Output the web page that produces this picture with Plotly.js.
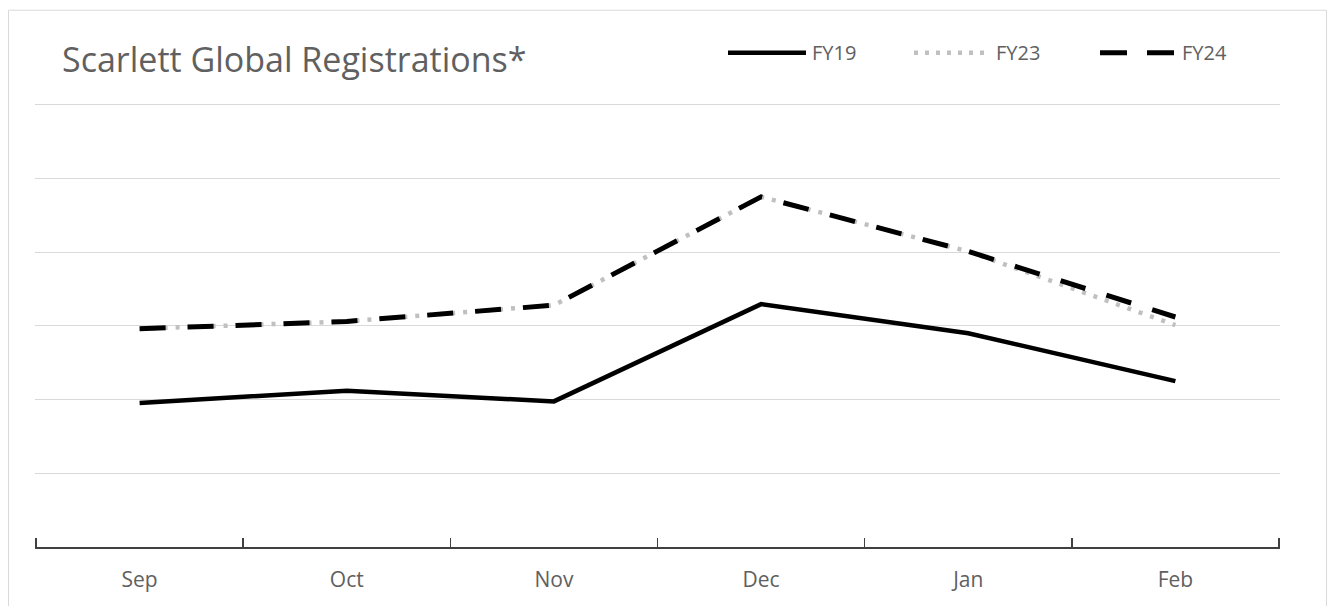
<!DOCTYPE html>
<html>
<head>
<meta charset="utf-8">
<script src="https://cdn.plot.ly/plotly-3.0.1.min.js"></script>
<style>
  html, body { margin: 0; padding: 0; background: #fff; }
  #chart { width: 1327px; height: 606px; }
</style>
</head>
<body>
<div id="chart"></div>
<script>
// Data (gridline spacing = 1000)
const months = ["Sep", "Oct", "Nov", "Dec", "Jan", "Feb"];
const seriesNames = ["FY19", "FY23", "FY24"];
const fy19 = [1955, 2120, 1975, 3295, 2900, 2250];
const fy23 = [2960, 3060, 3280, 4750, 4010, 3010];
const fy24 = [2960, 3060, 3280, 4750, 4010, 3120];

const textColor = "#606060";
const gridColor = "#d9d9d9";
const fontFam = "'Open Sans', sans-serif";

const traces = [
  { x: months, y: fy23, name: seriesNames[1], type: "scatter", mode: "lines",
    line: { color: "#c0c0c0", width: 4.5, dash: "4px,8px" }, hoverinfo: "skip" },
  { x: months, y: fy24, name: seriesNames[2], type: "scatter", mode: "lines",
    line: { color: "#000000", width: 5, dash: "26px,22px" }, hoverinfo: "skip" },
  { x: months, y: fy19, name: seriesNames[0], type: "scatter", mode: "lines",
    line: { color: "#000000", width: 4.5 }, hoverinfo: "skip" }
];

// plot-area geometry helpers for the custom legend / frame (paper coords)
const L = 35, R = 1280, T = 101.3, B = 547.5;
const px = v => (v - L) / (R - L);
const py = v => (B - v) / (B - T);

const legY = py(53);
const legendItems = [
  { name: seriesNames[0], x0: 728, x1: 806, tx: 810, line: { color: "#000", width: 4.5 } },
  { name: seriesNames[1], x0: 914, x1: 988, tx: 994, line: { color: "#c0c0c0", width: 4.5, dash: "4px,7px" } },
  { name: seriesNames[2], x0: 1100, x1: 1175, tx: 1180, line: { color: "#000", width: 5, dash: "27px,20px" } }
];

const shapes = [
  { type: "rect", xref: "paper", yref: "paper", x0: px(8.5), x1: px(1326.5), y0: py(10.5), y1: py(640),
    line: { color: gridColor, width: 1 }, fillcolor: "rgba(0,0,0,0)", layer: "below" }
];
const annotations = [];
legendItems.forEach(it => {
  shapes.push({ type: "line", xref: "paper", yref: "paper", x0: px(it.x0), x1: px(it.x1), y0: legY, y1: legY, line: it.line });
  annotations.push({ xref: "paper", yref: "paper", x: px(it.tx), y: legY, xanchor: "left", yanchor: "middle",
    text: it.name, showarrow: false, font: { family: fontFam, size: 20, color: textColor } });
});

const layout = {
  width: 1327, height: 606,
  margin: { l: L, r: 1327 - R, t: T, b: 606 - B },
  paper_bgcolor: "#ffffff", plot_bgcolor: "#ffffff",
  showlegend: false,
  title: { text: "Scarlett Global Registrations*", x: 62 / 1327, xref: "container", xanchor: "left",
    y: 1 - 60 / 606, yref: "container", yanchor: "middle",
    font: { family: fontFam, size: 34, color: textColor } },
  xaxis: {
    type: "category", range: [-0.505, 5.505], tickson: "boundaries",
    showline: true, linecolor: "#404040", linewidth: 1.5,
    ticks: "inside", ticklen: 9, tickwidth: 1.5, tickcolor: "#404040",
    showgrid: false, zeroline: false, ticklabelstandoff: 13,
    tickfont: { family: fontFam, size: 21, color: textColor }, fixedrange: true
  },
  yaxis: {
    range: [0, 6050], dtick: 1000, showticklabels: false, showline: false, zeroline: false,
    showgrid: true, gridcolor: gridColor, gridwidth: 1, ticks: "", fixedrange: true
  },
  shapes: shapes,
  annotations: annotations
};

Plotly.newPlot("chart", traces, layout, { displayModeBar: false, staticPlot: true });
</script>
</body>
</html>
